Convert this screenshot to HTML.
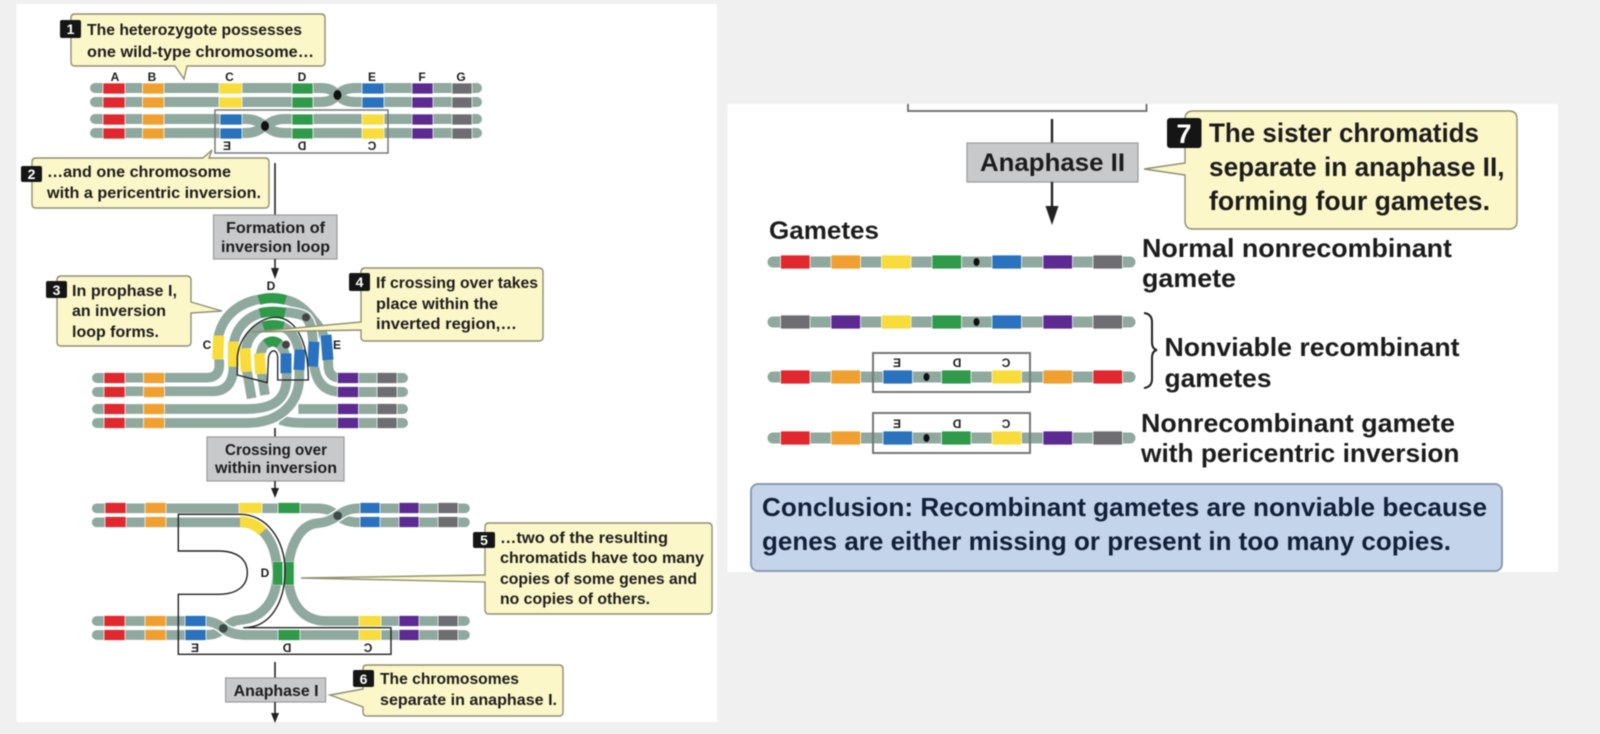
<!DOCTYPE html>
<html><head><meta charset="utf-8"><style>
html,body{margin:0;padding:0;background:#f0f0f0}
svg{display:block;filter:blur(.45px)}
text{font-family:"Liberation Sans",sans-serif;font-weight:bold;fill:#1c1c1c}
.c{fill:#fcf7c8;stroke:#8f8f72;stroke-width:1.4}
.b{fill:#c8c9cb;stroke:#9a9a9a;stroke-width:1.2}
.bd{fill:#151515}
.n{fill:#fff;font-size:14px;text-anchor:middle}
.t{font-size:16px}
.l{font-size:12px;text-anchor:middle}
.m{stroke:#8fa99f;stroke-width:10;fill:none;stroke-linecap:round}
.w{stroke:#fff;stroke-width:12;fill:none}
.mz{stroke:#8fa99f;stroke-width:29;fill:none}
.wz{stroke:#fff;stroke-width:37;fill:none}
.ln{stroke:#222;stroke-width:1.6;fill:none}
.r{fill:#e0282e}.o{fill:#f0a030}.y{fill:#f7dc3c}.g{fill:#2f9a4a}.u{fill:#2a72bd}.p{fill:#5c2a91}.a{fill:#6e6e72}
rect.r,rect.o,rect.y,rect.g,rect.u,rect.p,rect.a{stroke:#fff;stroke-width:.7}
</style></head><body>
<svg width="1600" height="734" viewBox="0 0 1600 734" xmlns="http://www.w3.org/2000/svg">
<rect width="1600" height="734" fill="#f0f0f0"/>
<rect x="16.5" y="4" width="700.500" height="718" fill="#fff"/>
<rect x="727.500" y="104" width="830.500" height="468" fill="#fff"/>

<!-- SECTION 1 -->
<path class="w" d="M95 88H325C332 88 334 92 337.5 95C341 98 345 102 355 102H477"/>
<path class="w" d="M95 102H325C332 102 334 98 337.5 95C341 92 345 88 355 88H477"/>
<path class="m" d="M95 88H320C331 88 333 91 337.5 95C342 99 345 102 356 102H477"/>
<path class="m" d="M95 102H320C331 102 333 99 337.5 95C342 91 345 88 356 88H477"/>
<path class="m" d="M95 119H245C255 119 259 122 265 126C271 130 275 133 285 133H477"/>
<path class="m" d="M95 133H245C255 133 259 130 265 126C271 122 275 119 285 119H477"/>
<g>
<rect class="r" x="103" y="83" width="22" height="11"/><rect class="r" x="103" y="97" width="22" height="11"/><rect class="r" x="103" y="114" width="22" height="11"/><rect class="r" x="103" y="128" width="22" height="11"/>
<rect class="o" x="142.500" y="83" width="21.500" height="11"/><rect class="o" x="142.500" y="97" width="21.500" height="11"/><rect class="o" x="142.500" y="114" width="21.500" height="11"/><rect class="o" x="142.500" y="128" width="21.500" height="11"/>
<rect class="y" x="219" y="83" width="23" height="11"/><rect class="y" x="219" y="97" width="23" height="11"/>
<rect class="u" x="220" y="114" width="22" height="11"/><rect class="u" x="220" y="128" width="22" height="11"/>
<rect class="g" x="292" y="83" width="21" height="11"/><rect class="g" x="292" y="97" width="21" height="11"/><rect class="g" x="292" y="114" width="21" height="11"/><rect class="g" x="292" y="128" width="21" height="11"/>
<rect class="u" x="362" y="83" width="22" height="11"/><rect class="u" x="362" y="97" width="22" height="11"/>
<rect class="y" x="362" y="114" width="22" height="11"/><rect class="y" x="362" y="128" width="22" height="11"/>
<rect class="p" x="412" y="83" width="21" height="11"/><rect class="p" x="412" y="97" width="21" height="11"/><rect class="p" x="412" y="114" width="21" height="11"/><rect class="p" x="412" y="128" width="21" height="11"/>
<rect class="a" x="452" y="83" width="20" height="11"/><rect class="a" x="452" y="97" width="20" height="11"/><rect class="a" x="452" y="114" width="20" height="11"/><rect class="a" x="452" y="128" width="20" height="11"/>
</g>
<ellipse cx="337.500" cy="95" rx="4" ry="5" fill="#111"/><ellipse cx="265" cy="126" rx="4" ry="5" fill="#111"/>
<text class="l" x="115" y="81">A</text><text class="l" x="152" y="81">B</text><text class="l" x="229.500" y="81">C</text><text class="l" x="302" y="81">D</text><text class="l" x="372" y="81">E</text><text class="l" x="422" y="81">F</text><text class="l" x="461" y="81">G</text>
<rect x="215" y="110" width="173" height="43" fill="none" stroke="#777" stroke-width="1.5"/>
<text class="l" transform="translate(227 150) scale(-1 1)">E</text><text class="l" transform="translate(302 150) scale(-1 1)">D</text><text class="l" transform="translate(372 150) scale(-1 1)">C</text>

<path class="c" d="M75 14H321Q325 14 325 18V62Q325 66 321 66H187L184 79L175 66H75Q71 66 71 62V18Q71 14 75 14Z"/>
<rect class="bd" x="60" y="20" width="21" height="18" rx="2"/><text class="n" x="70.500" y="34">1</text>
<text class="t" x="87" y="35" textLength="215" lengthAdjust="spacingAndGlyphs">The heterozygote possesses</text>
<text class="t" x="87" y="57" textLength="227" lengthAdjust="spacingAndGlyphs">one wild-type chromosome…</text>

<path class="c" d="M36 158H203L212 150L209 158H265Q269 158 269 162V204Q269 208 265 208H36Q32 208 32 204V162Q32 158 36 158Z"/>
<rect class="bd" x="21" y="166" width="21" height="16" rx="2"/><text class="n" x="31.500" y="179">2</text>
<text class="t" x="47" y="177" textLength="184" lengthAdjust="spacingAndGlyphs">…and one chromosome</text>
<text class="t" x="47" y="198" textLength="214" lengthAdjust="spacingAndGlyphs">with a pericentric inversion.</text>

<line class="ln" x1="275" y1="163" x2="275" y2="216"/>
<rect class="b" x="213.500" y="215" width="123.500" height="44"/>
<text class="t" x="226" y="233" textLength="99" lengthAdjust="spacingAndGlyphs">Formation of</text>
<text class="t" x="221" y="252" textLength="109" lengthAdjust="spacingAndGlyphs">inversion loop</text>
<line class="ln" x1="275" y1="259" x2="275" y2="270"/><path d="M271 268H279L275 279Z" fill="#222"/>

<!-- SECTION 2: inversion loop -->
<g transform="translate(180 270) scale(.33333)">
<path class="wz" d="M355 417H480"/><path class="mz" d="M355 417H480"/>
<path class="wz" d="M300 450C330 459 350 459 380 459H480"/><path class="mz" d="M300 450C330 459 350 459 380 459H480"/>
<path class="wz" d="M195 268L215 385"/><path class="mz" d="M195 268L215 385"/>
<path class="wz" d="M240 280L255 375"/><path class="mz" d="M240 280L255 375"/>
<path class="wz" d="M-190 323H80Q118 323 118 285L115 200C130 130 190 85 275 85C340 85 370 110 400 150C430 180 445 220 445 285Q445 323 480 323"/>
<path class="mz" d="M-190 323H80Q118 323 118 285L115 200C130 130 190 85 275 85C340 85 370 110 400 150C430 180 445 220 445 285Q445 323 480 323"/>
<path class="wz" d="M-190 364H100Q155 362 160 300L160 230C165 170 210 125 280 125C340 125 370 135 378 142C395 160 400 200 400 250C400 320 420 365 480 365"/>
<path class="mz" d="M-190 364H100Q155 362 160 300L160 230C165 170 210 125 280 125C340 125 370 135 378 142C395 160 400 200 400 250C400 320 420 365 480 365"/>
<path class="wz" d="M195 268C195 200 230 165 280 165C330 165 358 210 358 270L358 320C358 400 300 459 200 459H-190"/>
<path class="mz" d="M195 268C195 200 230 165 280 165C330 165 358 210 358 270L358 320C358 400 300 459 200 459H-190"/>
<path class="wz" d="M240 280C240 240 250 215 278 215C300 215 318 240 318 280L320 320C320 390 280 417 200 417H-190"/>
<path class="mz" d="M240 280C240 240 250 215 278 215C300 215 318 240 318 280L320 320C320 390 280 417 200 417H-190"/>
<path d="M262 340L265 265C270 232 293 232 293 265L293 333Z" fill="#fff"/>
<g fill="none" stroke="#fff" stroke-width="37">
<path d="M116 197L113 268"/><path d="M160 215L160 290"/><path d="M195 235L199 305"/><path d="M238 250L242 312"/>
<path d="M318 250V310"/><path d="M360 238L357 300"/><path d="M402 215L398 290"/><path d="M438 195L444 270"/>
</g>
<g fill="none" stroke-width="33" stroke="#f7dc3c"><path d="M116 197L113 268"/><path d="M160 215L160 290"/><path d="M195 235L199 305"/><path d="M238 250L242 312"/></g>
<g fill="none" stroke-width="33" stroke="#2a72bd"><path d="M318 250V310"/><path d="M360 238L357 300"/><path d="M402 215L398 290"/><path d="M438 195L444 270"/></g>
<g fill="none" stroke-width="30" stroke="#2f9a4a"><path d="M237 90Q275 78 317 90"/><path d="M240 130Q278 120 315 130"/><path d="M250 170Q280 160 310 170"/><path d="M258 222Q278 206 298 222"/></g>
<circle cx="378" cy="142" r="12" fill="#444"/><circle cx="318" cy="224" r="12" fill="#444"/>
<path d="M172 315V260C180 190 240 142 285 142C340 142 385 200 385 330H293V265C293 235 270 235 265 265L262 338Z" fill="none" stroke="#222" stroke-width="4"/>
</g>
<path class="m" d="M97 378H105M97 392H105M97 409H105M97 423H105M340 378H403M340 392H403M340 409H403M340 423H403"/>
<rect class="r" x="104" y="372.500" width="21" height="11"/><rect class="r" x="104" y="386.500" width="21" height="11"/><rect class="r" x="104" y="403.500" width="21" height="11"/><rect class="r" x="104" y="417.500" width="21" height="11"/>
<rect class="o" x="143.500" y="372.500" width="21" height="11"/><rect class="o" x="143.500" y="386.500" width="21" height="11"/><rect class="o" x="143.500" y="403.500" width="21" height="11"/><rect class="o" x="143.500" y="417.500" width="21" height="11"/>
<rect class="p" x="337.500" y="372.500" width="21" height="11"/><rect class="p" x="337.500" y="386.500" width="21" height="11"/><rect class="p" x="337.500" y="403.500" width="21" height="11"/><rect class="p" x="337.500" y="417.500" width="21" height="11"/>
<rect class="a" x="377" y="372.500" width="20" height="11"/><rect class="a" x="377" y="386.500" width="20" height="11"/><rect class="a" x="377" y="403.500" width="20" height="11"/><rect class="a" x="377" y="417.500" width="20" height="11"/>
<text class="l" x="271" y="290">D</text><text class="l" x="207" y="349">C</text><text class="l" x="337" y="349">E</text>

<path class="c" d="M61 276H187Q191 276 191 280V302L222 311L191 313V342Q191 346 187 346H61Q57 346 57 342V280Q57 276 61 276Z"/>
<rect class="bd" x="46" y="281" width="21" height="17" rx="2"/><text class="n" x="56.500" y="295">3</text>
<text class="t" x="72" y="296" textLength="105" lengthAdjust="spacingAndGlyphs">In prophase I,</text>
<text class="t" x="72" y="316" textLength="94" lengthAdjust="spacingAndGlyphs">an inversion</text>
<text class="t" x="72" y="337" textLength="87" lengthAdjust="spacingAndGlyphs">loop forms.</text>

<path class="c" d="M365 268H539Q543 268 543 272V337Q543 341 539 341H365Q361 341 361 337V330L252 332L361 322V272Q361 268 365 268Z"/>
<rect class="bd" x="349" y="273" width="21" height="18" rx="2"/><text class="n" x="359.500" y="287">4</text>
<text class="t" x="376" y="288" textLength="162" lengthAdjust="spacingAndGlyphs">If crossing over takes</text>
<text class="t" x="376" y="309" textLength="122" lengthAdjust="spacingAndGlyphs">place within the</text>
<text class="t" x="376" y="329" textLength="141" lengthAdjust="spacingAndGlyphs">inverted region,…</text>

<line class="ln" x1="275" y1="428" x2="275" y2="438"/>
<rect class="b" x="207" y="437" width="137" height="44"/>
<text class="t" x="225" y="455" textLength="102" lengthAdjust="spacingAndGlyphs">Crossing over</text>
<text class="t" x="215" y="473" textLength="122" lengthAdjust="spacingAndGlyphs">within inversion</text>
<line class="ln" x1="275" y1="481" x2="275" y2="490"/><path d="M271 488H279L275 498Z" fill="#222"/>

<!-- SECTION 3 -->
<g transform="translate(160 490) scale(.33333)">
<path class="wz" d="M-190 55H470C505 55 515 65 533 77C550 90 565 97 600 97H915"/><path class="mz" stroke-linecap="round" d="M-190 55H470C505 55 515 65 533 77C550 90 565 97 600 97H915"/>
<path class="mz" stroke-linecap="round" d="M-190 97H240"/>
<path class="wz" d="M915 55H600C565 55 550 65 533 77C515 90 500 97 470 100C420 105 385 170 385 250C385 330 420 393 500 393H915"/>
<path class="mz" stroke-linecap="round" d="M915 55H600C565 55 550 65 533 77C515 90 500 97 470 100C420 105 385 170 385 250C385 330 420 393 500 393H915"/>
<path class="wz" d="M240 97C310 97 350 160 352 250C350 330 310 385 240 390C215 392 205 405 190 415C170 435 150 435 130 435H-190"/>
<path class="mz" d="M240 97C310 97 350 160 352 250C350 330 310 385 240 390C215 392 205 405 190 415C170 435 150 435 130 435H-190" stroke-linecap="round"/>
<path class="wz" d="M-190 393H130C155 393 175 402 190 415C205 428 225 435 260 435H915"/>
<path class="mz" stroke-linecap="round" d="M-190 393H130C155 393 175 402 190 415C205 428 225 435 260 435H915"/>
<path d="M240 83C270 83 292 95 308 113" stroke="#f7dc3c" stroke-width="32" fill="none" transform="translate(0 12)"/>
<rect x="338" y="215" width="30" height="70" fill="#2f9a4a" stroke="#fff"/><rect x="372" y="215" width="30" height="70" fill="#2f9a4a" stroke="#fff"/>
<circle cx="533" cy="77" r="13" fill="#3c4a48"/><circle cx="190" cy="415" r="13" fill="#3c4a48"/>
</g>
<g>
<rect class="r" x="105" y="502.500" width="21" height="11"/><rect class="r" x="105" y="516.500" width="21" height="11"/><rect class="r" x="104" y="615.500" width="21" height="11"/><rect class="r" x="104" y="629.500" width="21" height="11"/>
<rect class="o" x="145" y="502.500" width="21" height="11"/><rect class="o" x="145" y="516.500" width="21" height="11"/><rect class="o" x="145" y="615.500" width="21" height="11"/><rect class="o" x="145" y="629.500" width="21" height="11"/>
<rect class="y" x="239" y="502.500" width="23" height="11"/><rect class="g" x="278" y="502.500" width="22" height="11"/>
<rect class="u" x="360" y="502.500" width="20" height="11"/><rect class="u" x="360" y="516.500" width="20" height="11"/>
<rect class="u" x="185" y="615.500" width="21" height="11"/><rect class="u" x="185" y="629.500" width="21" height="11"/>
<rect class="g" x="278" y="629.500" width="22" height="11"/>
<rect class="y" x="359" y="615.500" width="22" height="11"/><rect class="y" x="359" y="629.500" width="22" height="11"/>
<rect class="p" x="399" y="502.500" width="20" height="11"/><rect class="p" x="399" y="516.500" width="20" height="11"/><rect class="p" x="399" y="615.500" width="20" height="11"/><rect class="p" x="399" y="629.500" width="20" height="11"/>
<rect class="a" x="438" y="502.500" width="20" height="11"/><rect class="a" x="438" y="516.500" width="20" height="11"/><rect class="a" x="438" y="615.500" width="20" height="11"/><rect class="a" x="438" y="629.500" width="20" height="11"/>
</g>
<path d="M178.300 514.300H240C266.700 514.300 285 540 285 570C285 603.300 270 627.700 243.300 627.700H391V654.300H178.300V594.300H218.300C238.300 594.300 247.300 585 247.300 572.700C247.300 560 238.300 551 218.300 551H178.300Z" fill="none" stroke="#222" stroke-width="1.4"/>
<text class="l" x="265" y="577">D</text>
<text class="l" transform="translate(195 652) scale(-1 1)">E</text><text class="l" transform="translate(287 652) scale(-1 1)">D</text><text class="l" transform="translate(368 652) scale(-1 1)">C</text>

<path class="c" d="M489 523H708Q712 523 712 527V610Q712 614 708 614H489Q485 614 485 610V582L301 578L485 575V527Q485 523 489 523Z"/>
<rect class="bd" x="473" y="532" width="22" height="16" rx="2"/><text class="n" x="484" y="545">5</text>
<text class="t" x="500" y="543" textLength="168" lengthAdjust="spacingAndGlyphs">…two of the resulting</text>
<text class="t" x="500" y="563" textLength="204" lengthAdjust="spacingAndGlyphs">chromatids have too many</text>
<text class="t" x="500" y="584" textLength="197" lengthAdjust="spacingAndGlyphs">copies of some genes and</text>
<text class="t" x="500" y="604" textLength="150" lengthAdjust="spacingAndGlyphs">no copies of others.</text>

<line class="ln" x1="275" y1="662" x2="275" y2="679"/>
<rect class="b" x="225.600" y="678" width="100" height="24"/>
<text class="t" x="233.600" y="696" textLength="85" lengthAdjust="spacingAndGlyphs">Anaphase I</text>
<line class="ln" x1="275" y1="702" x2="275" y2="715"/><path d="M271 713H279L275 723Z" fill="#222"/>
<path class="c" d="M367 665H559Q563 665 563 669V712Q563 716 559 716H367Q363 716 363 712V707L330 695L363 689V669Q363 665 367 665Z"/>
<rect class="bd" x="353" y="670" width="21" height="17" rx="2"/><text class="n" x="363.500" y="684">6</text>
<text class="t" x="380" y="684" textLength="139" lengthAdjust="spacingAndGlyphs">The chromosomes</text>
<text class="t" x="380" y="705" textLength="177" lengthAdjust="spacingAndGlyphs">separate in anaphase I.</text>

<!-- RIGHT PANEL -->
<path d="M908 104V111H1146.500V104" fill="none" stroke="#777" stroke-width="2"/>
<line stroke="#222" stroke-width="2.400" x1="1052" y1="119" x2="1052" y2="144"/>
<rect class="b" x="967" y="143" width="171" height="39"/>
<text x="980" y="171" font-size="25" textLength="145" lengthAdjust="spacingAndGlyphs">Anaphase II</text>
<line stroke="#222" stroke-width="2.400" x1="1052" y1="182" x2="1052" y2="210"/><path d="M1045.500 206H1058.500L1052 225Z" fill="#222"/>
<path class="c" stroke-width="2" d="M1193 111H1509Q1517 111 1517 119V221Q1517 229 1509 229H1193Q1185 229 1185 221V175L1144 169L1185 163V119Q1185 111 1193 111Z"/>
<rect class="bd" x="1167" y="118" width="34.500" height="30" rx="3"/><text x="1184" y="143" font-size="27" text-anchor="middle" style="fill:#fff">7</text>
<text x="1209" y="142" font-size="27" textLength="270" lengthAdjust="spacingAndGlyphs">The sister chromatids</text>
<text x="1209" y="176" font-size="27" textLength="295.500" lengthAdjust="spacingAndGlyphs">separate in anaphase II,</text>
<text x="1209" y="210" font-size="27" textLength="281" lengthAdjust="spacingAndGlyphs">forming four gametes.</text>

<text x="769" y="239" font-size="25" textLength="110" lengthAdjust="spacingAndGlyphs">Gametes</text>

<g stroke="#8fa99f" stroke-width="11" stroke-linecap="round" fill="none">
<path d="M773 262H1130M773 322H1130M773 377H1130M773 438H1130"/>
</g>
<g>
<rect class="r" x="780.500" y="255" width="29.500" height="14" rx="1"/><rect class="o" x="831" y="255" width="29.500" height="14" rx="1"/><rect class="y" x="881.500" y="255" width="29.500" height="14" rx="1"/><rect class="g" x="932" y="255" width="29.500" height="14" rx="1"/><rect class="u" x="992" y="255" width="29.500" height="14" rx="1"/><rect class="p" x="1043" y="255" width="29.500" height="14" rx="1"/><rect class="a" x="1093" y="255" width="29.500" height="14" rx="1"/>
<rect class="a" x="780.500" y="315" width="29.500" height="14" rx="1"/><rect class="p" x="831" y="315" width="29.500" height="14" rx="1"/><rect class="y" x="881.500" y="315" width="29.500" height="14" rx="1"/><rect class="g" x="932" y="315" width="29.500" height="14" rx="1"/><rect class="u" x="992" y="315" width="29.500" height="14" rx="1"/><rect class="p" x="1043" y="315" width="29.500" height="14" rx="1"/><rect class="a" x="1093" y="315" width="29.500" height="14" rx="1"/>
<rect class="r" x="780.500" y="370" width="29.500" height="14" rx="1"/><rect class="o" x="831" y="370" width="29.500" height="14" rx="1"/><rect class="u" x="883" y="370" width="29.500" height="14" rx="1"/><rect class="g" x="941.500" y="370" width="29.500" height="14" rx="1"/><rect class="y" x="992" y="370" width="29.500" height="14" rx="1"/><rect class="o" x="1043" y="370" width="29.500" height="14" rx="1"/><rect class="r" x="1093" y="370" width="29.500" height="14" rx="1"/>
<rect class="r" x="780.500" y="431" width="29.500" height="14" rx="1"/><rect class="o" x="831" y="431" width="29.500" height="14" rx="1"/><rect class="u" x="883" y="431" width="29.500" height="14" rx="1"/><rect class="g" x="941.500" y="431" width="29.500" height="14" rx="1"/><rect class="y" x="992" y="431" width="29.500" height="14" rx="1"/><rect class="p" x="1043" y="431" width="29.500" height="14" rx="1"/><rect class="a" x="1093" y="431" width="29.500" height="14" rx="1"/>
</g>
<g fill="#111"><ellipse cx="976.500" cy="262" rx="3" ry="4"/><ellipse cx="976.500" cy="322" rx="3" ry="4"/><ellipse cx="926.500" cy="377" rx="3" ry="4"/><ellipse cx="926.500" cy="438" rx="3" ry="4"/></g>
<rect x="873" y="353" width="157" height="39" fill="none" stroke="#777" stroke-width="2"/>
<rect x="873" y="413" width="157" height="40" fill="none" stroke="#777" stroke-width="2"/>
<g>
<text class="l" transform="translate(897 367) scale(-1 1)">E</text><text class="l" transform="translate(957 367) scale(-1 1)">D</text><text class="l" transform="translate(1006 367) scale(-1 1)">C</text>
<text class="l" transform="translate(897 428) scale(-1 1)">E</text><text class="l" transform="translate(957 428) scale(-1 1)">D</text><text class="l" transform="translate(1006 428) scale(-1 1)">C</text>
</g>
<path d="M1144 313Q1152 314 1152 322V342Q1152 349 1157 350Q1152 351 1152 358V379Q1152 387 1144 388" fill="none" stroke="#222" stroke-width="2"/>

<g font-size="26">
<text x="1142" y="257" textLength="310" lengthAdjust="spacingAndGlyphs">Normal nonrecombinant</text>
<text x="1142" y="287" textLength="94" lengthAdjust="spacingAndGlyphs">gamete</text>
<text x="1164.500" y="356" textLength="295" lengthAdjust="spacingAndGlyphs">Nonviable recombinant</text>
<text x="1164.500" y="387" textLength="107" lengthAdjust="spacingAndGlyphs">gametes</text>
<text x="1141" y="432" textLength="314" lengthAdjust="spacingAndGlyphs">Nonrecombinant gamete</text>
<text x="1141" y="462" textLength="318.500" lengthAdjust="spacingAndGlyphs">with pericentric inversion</text>
</g>
<rect x="751" y="484" width="751" height="87" rx="7" fill="#c4d4ea" stroke="#8c9cb0" stroke-width="2"/>
<text x="762" y="516" font-size="26" textLength="725" lengthAdjust="spacingAndGlyphs" style="fill:#14203a">Conclusion: Recombinant gametes are nonviable because</text>
<text x="762" y="550" font-size="26" textLength="689" lengthAdjust="spacingAndGlyphs" style="fill:#14203a">genes are either missing or present in too many copies.</text>
</svg>
</body></html>
